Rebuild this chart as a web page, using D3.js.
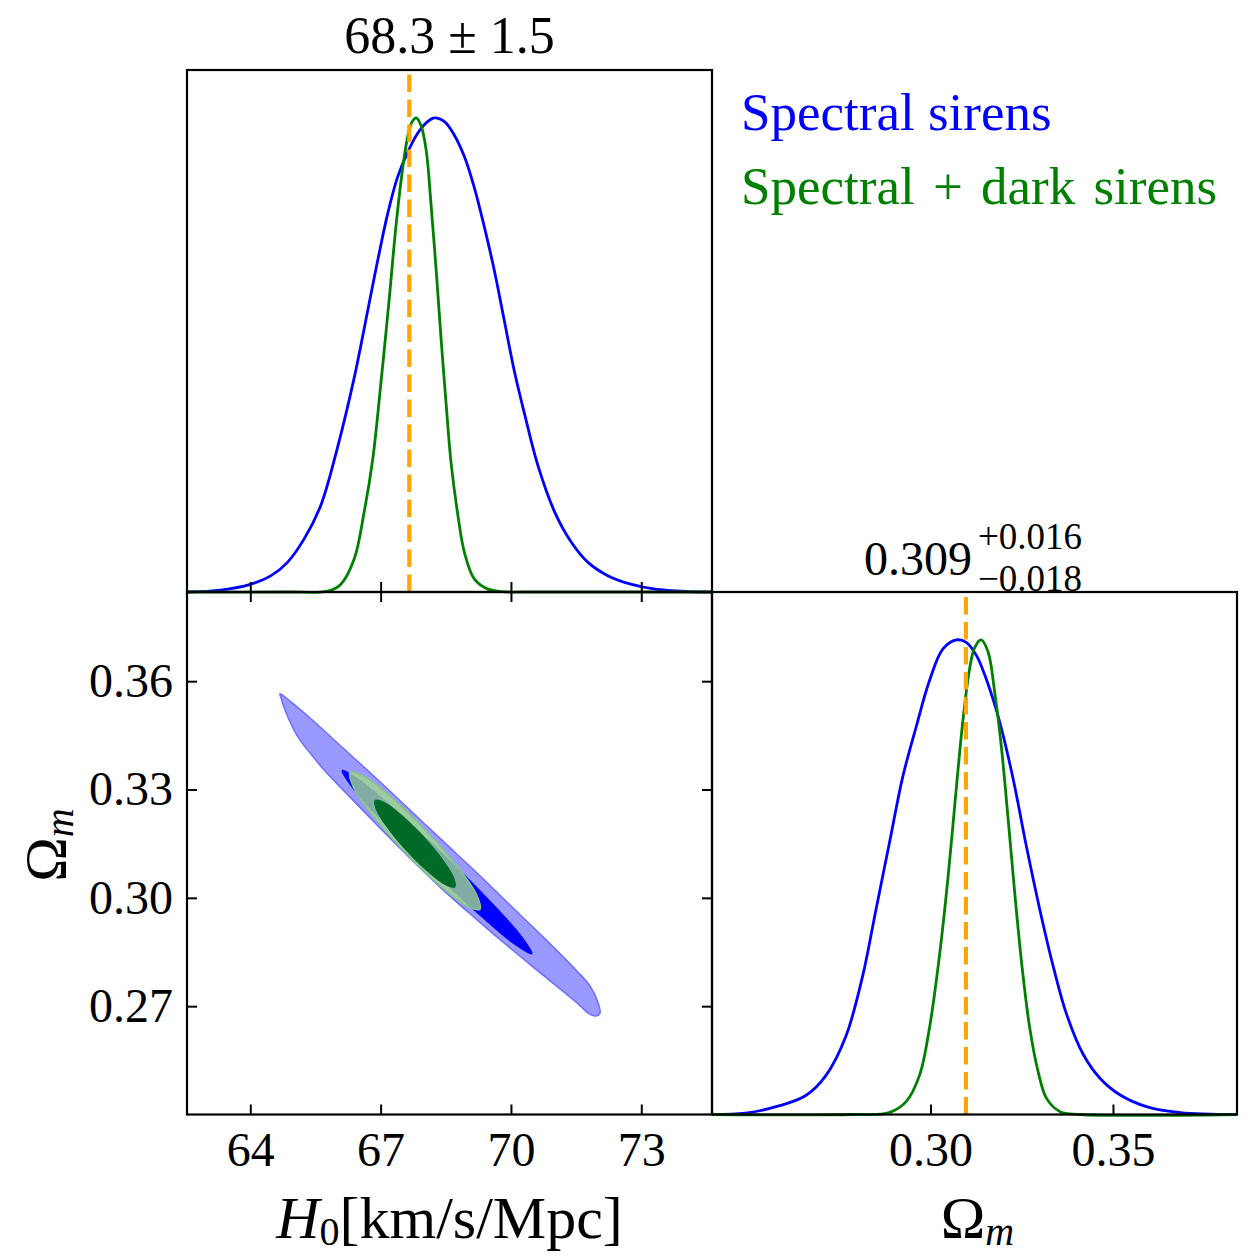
<!DOCTYPE html>
<html><head><meta charset="utf-8">
<script src="https://cdn.jsdelivr.net/npm/d3@7"></script>
<style>
html,body{margin:0;padding:0;background:#fff;}
svg text{font-family:"Liberation Serif","DejaVu Serif",serif;fill:#000;}
</style></head><body>
<svg id="fig" width="1244" height="1258"></svg>
<script>
// ---------------- data ----------------
const seriesNames = ["Spectral sirens", "Spectral + dark sirens"];
const seriesColors = ["#0000ff", "#008000"];

const h0Ticks = [64, 67, 70, 73];
const omTicks = [0.27, 0.30, 0.33, 0.36];
const omDiagTicks = [0.30, 0.35];

const h0Truth = 67.66;
const omTruth = 0.3097;

const h0Summary = "68.3 \u00B1 1.5";
const omMedian = "0.309", omPlus = "+0.016", omMinus = "\u22120.018";

// marginal posterior of H0 (peak-normalised)
const h0Spectral = [62.55, 63.32, 64.0, 64.47, 64.85, 65.24, 65.62, 66.0, 66.39, 66.7, 66.93, 67.16, 67.39, 67.64, 67.85, 68.08, 68.24, 68.47, 68.7, 68.93, 69.16, 69.39, 69.62, 69.85, 70.08, 70.32, 70.62, 71.01, 71.39, 71.78, 72.24, 72.78, 73.32, 74.08, 74.6];
const h0SpectralPdf = [0, 0.004, 0.016, 0.034, 0.062, 0.112, 0.182, 0.302, 0.451, 0.592, 0.698, 0.797, 0.875, 0.931, 0.967, 0.992, 1.0, 0.992, 0.963, 0.918, 0.852, 0.769, 0.677, 0.571, 0.465, 0.373, 0.267, 0.168, 0.105, 0.062, 0.034, 0.016, 0.006, 0.001, 0];
const h0Joint = [62.55, 64.85, 65.78, 66.08, 66.39, 66.62, 66.82, 67.01, 67.2, 67.35, 67.51, 67.62, 67.72, 67.82, 67.93, 68.05, 68.16, 68.28, 68.39, 68.51, 68.62, 68.78, 68.93, 69.16, 69.47, 69.93, 70.24, 74.6];
const h0JointPdf = [0, 0, 0.002, 0.016, 0.069, 0.168, 0.281, 0.444, 0.62, 0.769, 0.896, 0.959, 0.991, 1.0, 0.984, 0.931, 0.818, 0.677, 0.536, 0.394, 0.274, 0.161, 0.083, 0.027, 0.006, 0, 0, 0];

// marginal posterior of Omega_m (peak-normalised)
const omSpectral = [0.2401, 0.2493, 0.2584, 0.2658, 0.2713, 0.2768, 0.2814, 0.2850, 0.2887, 0.2924, 0.2961, 0.2997, 0.3034, 0.3071, 0.3098, 0.3126, 0.3153, 0.3190, 0.3227, 0.3263, 0.3300, 0.3337, 0.3373, 0.3419, 0.3465, 0.3520, 0.3594, 0.3685, 0.3839];
const omSpectralPdf = [0, 0.003, 0.018, 0.040, 0.082, 0.165, 0.292, 0.43, 0.571, 0.712, 0.818, 0.914, 0.981, 1.0, 0.995, 0.967, 0.917, 0.826, 0.705, 0.564, 0.43, 0.31, 0.211, 0.126, 0.076, 0.041, 0.016, 0.004, 0];
const omJoint = [0.2401, 0.2786, 0.2887, 0.2933, 0.2970, 0.2997, 0.3025, 0.3048, 0.3071, 0.3089, 0.3107, 0.3121, 0.3139, 0.3158, 0.3176, 0.3194, 0.3213, 0.3231, 0.3250, 0.3272, 0.3295, 0.3318, 0.3355, 0.3410, 0.3839];
const omJointPdf = [0, 0, 0.004, 0.027, 0.083, 0.182, 0.338, 0.5, 0.691, 0.832, 0.939, 0.984, 1.0, 0.974, 0.889, 0.776, 0.62, 0.465, 0.317, 0.182, 0.09, 0.034, 0.006, 0, 0];

// 2D credible-region outlines, [H0, Omega_m]
const spectral95 = [[64.684,0.3565],[64.914,0.3545],[65.375,0.3498],[66.134,0.3415],[66.917,0.3329],[67.677,0.3243],[68.436,0.3157],[69.219,0.3069],[69.979,0.2980],[70.738,0.2892],[71.521,0.2797],[71.820,0.2756],[72.004,0.2710],[72.050,0.2681],[71.958,0.2673],[71.774,0.2681],[71.521,0.2709],[70.738,0.2786],[69.979,0.2861],[69.219,0.2939],[68.436,0.3022],[67.677,0.3110],[66.917,0.3202],[66.134,0.3299],[65.720,0.3351],[65.375,0.3401],[65.144,0.3437],[64.983,0.3470],[64.799,0.3520],[64.707,0.3554]];
const spectral68 = [[70.485,0.2845],[70.271,0.2889],[69.530,0.2990],[68.457,0.3119],[67.343,0.3243],[66.486,0.3329],[66.111,0.3353],[66.325,0.3309],[67.066,0.3209],[68.139,0.3079],[69.253,0.2955],[70.110,0.2869]];
const joint95 = [[69.288,0.2968],[69.212,0.3008],[68.756,0.3088],[68.043,0.3186],[67.260,0.3277],[66.620,0.3336],[66.295,0.3347],[66.371,0.3307],[66.827,0.3227],[67.541,0.3129],[68.323,0.3038],[68.963,0.2979]];
const joint68 = [[68.712,0.3030],[68.680,0.3056],[68.413,0.3108],[67.978,0.3171],[67.492,0.3228],[67.087,0.3264],[66.871,0.3270],[66.903,0.3244],[67.170,0.3192],[67.605,0.3129],[68.091,0.3072],[68.496,0.3036]];

// ---------------- layout ----------------
const X0 = 187, X1 = 712, X2 = 1237;
const Y0 = 70, Y1 = 592, Y2 = 1114.5;
const TICK = 10;

const xH = d3.scaleLinear().domain([62.543, 74.628]).range([X0, X1]);
const yOm = d3.scaleLinear().domain([0.2400, 0.3847]).range([Y2, Y1]);
const xOm = d3.scaleLinear().domain([0.2401, 0.3840]).range([X1, X2]);
const yPdfTop = d3.scaleLinear().domain([0, 1.101]).range([Y1, Y0]);
const yPdfDiag = d3.scaleLinear().domain([0, 1.101]).range([Y2, Y1]);

const svg = d3.select("#fig");

// ---- 1D marginals ----
function drawPdf(xs, ps, xScale, yScale, color) {
  const pts = xs.map((v, i) => [xScale(v), Math.min(yScale(0), yScale(ps[i]))]);
  svg.append("path")
    .attr("d", d3.line().curve(d3.curveCatmullRom.alpha(0.5))(pts))
    .attr("fill", "none").attr("stroke", color)
    .attr("stroke-width", 2.8).attr("stroke-linejoin", "round");
}
drawPdf(h0Spectral, h0SpectralPdf, xH, yPdfTop, seriesColors[0]);
drawPdf(h0Joint, h0JointPdf, xH, yPdfTop, seriesColors[1]);
drawPdf(omSpectral, omSpectralPdf, xOm, yPdfDiag, seriesColors[0]);
drawPdf(omJoint, omJointPdf, xOm, yPdfDiag, seriesColors[1]);

// ---- truth markers ----
function truthLine(x, yBottom, yTop) {
  svg.append("line")
    .attr("x1", x).attr("x2", x).attr("y1", yBottom).attr("y2", yTop)
    .attr("stroke", "#ffa500").attr("stroke-width", 4.2)
    .attr("stroke-dasharray", "17.5,7.5");
}
truthLine(xH(h0Truth), Y1, Y0);
truthLine(xOm(omTruth), Y2, Y1);

// ---- 2D contours ----
const ring = d3.line().x(d => xH(d[0])).y(d => yOm(d[1])).curve(d3.curveCatmullRomClosed.alpha(0.5));
svg.append("path").attr("d", ring(spectral95))
  .attr("fill", "rgb(153,153,255)").attr("stroke", "rgb(110,110,255)").attr("stroke-width", 1.5);
svg.append("path").attr("d", ring(spectral68))
  .attr("fill", "#0000ff").attr("stroke", "#0000ff").attr("stroke-width", 1);
svg.append("path").attr("d", ring(joint95))
  .attr("fill", "rgb(160,215,140)").attr("fill-opacity", 0.8)
  .attr("stroke", "rgb(130,200,130)").attr("stroke-width", 1.5);
svg.append("path").attr("d", ring(joint68))
  .attr("fill", "rgb(0,107,40)").attr("stroke", "rgb(0,107,40)").attr("stroke-width", 1);

// ---- frames ----
[[X0, Y0, X1, Y1], [X0, Y1, X1, Y2], [X1, Y1, X2, Y2]].forEach(([a, b, c, d]) => {
  svg.append("rect").attr("x", a).attr("y", b).attr("width", c - a).attr("height", d - b)
    .attr("fill", "none").attr("stroke", "#000").attr("stroke-width", 2.2);
});

// ---- axes ----
const labelFont = 48;
function styleAxis(g) {
  g.select(".domain").remove();
  g.selectAll(".tick line").attr("stroke", "#000").attr("stroke-width", 2);
  g.selectAll(".tick text").attr("font-size", labelFont).attr("font-family", "Liberation Serif, serif").attr("fill", "#000");
}
// top-left panel: ticks along its bottom edge
svg.append("g").attr("transform", `translate(0,${Y1})`)
  .call(d3.axisBottom(xH).tickValues(h0Ticks).tickSize(-TICK).tickFormat(""))
  .call(styleAxis);
// lower-left panel
svg.append("g").attr("transform", `translate(0,${Y2})`)
  .call(d3.axisBottom(xH).tickValues(h0Ticks).tickSize(-TICK).tickPadding(17).tickFormat(d3.format("d")))
  .call(styleAxis);
svg.append("g").attr("transform", `translate(0,${Y1})`)
  .call(d3.axisTop(xH).tickValues(h0Ticks).tickSize(-TICK).tickFormat(""))
  .call(styleAxis);
svg.append("g").attr("transform", `translate(${X0},0)`)
  .call(d3.axisLeft(yOm).tickValues(omTicks).tickSize(-TICK).tickPadding(14).tickFormat(d3.format(".2f")))
  .call(styleAxis);
svg.append("g").attr("transform", `translate(${X1},0)`)
  .call(d3.axisRight(yOm).tickValues(omTicks).tickSize(-TICK).tickFormat(""))
  .call(styleAxis);
// lower-right panel
svg.append("g").attr("transform", `translate(0,${Y2})`)
  .call(d3.axisBottom(xOm).tickValues(omDiagTicks).tickSize(-TICK).tickPadding(17).tickFormat(d3.format(".2f")))
  .call(styleAxis);

// ---- titles ----
svg.append("text").attr("x", (X0 + X1) / 2).attr("y", 53)
  .attr("text-anchor", "middle").attr("font-size", 52).text(h0Summary);

svg.append("text").attr("x", 864).attr("y", 575).attr("font-size", 48).text(omMedian);
svg.append("text").attr("x", 978).attr("y", 549).attr("font-size", 37).text(omPlus);
svg.append("text").attr("x", 978).attr("y", 591).attr("font-size", 37).text(omMinus);

// ---- axis labels ----
const xlab = svg.append("text").attr("x", (X0 + X1) / 2).attr("y", 1238)
  .attr("text-anchor", "middle").attr("font-size", 60);
xlab.append("tspan").attr("font-style", "italic").text("H");
xlab.append("tspan").attr("font-size", 40).attr("dy", 7).text("0");
xlab.append("tspan").attr("dy", -7).text("[km/s/Mpc]");

function omegaLabel(g) {
  g.append("tspan").text("\u03A9");
  g.append("tspan").attr("font-style", "italic").attr("font-size", 40).attr("dy", 7).text("m");
}
omegaLabel(svg.append("text").attr("x", (X1 + X2) / 2 + 3).attr("y", 1238)
  .attr("text-anchor", "middle").attr("font-size", 60));
omegaLabel(svg.append("text").attr("transform", "translate(66,845) rotate(-90)")
  .attr("text-anchor", "middle").attr("font-size", 60));

// ---- legend ----
seriesNames.forEach((name, i) => {
  svg.append("text").attr("x", 741).attr("y", 130 + i * 74)
    .attr("font-size", 53).style("word-spacing", i === 1 ? "5px" : "0px")
    .style("fill", seriesColors[i]).text(name);
});
</script>
</body></html>
